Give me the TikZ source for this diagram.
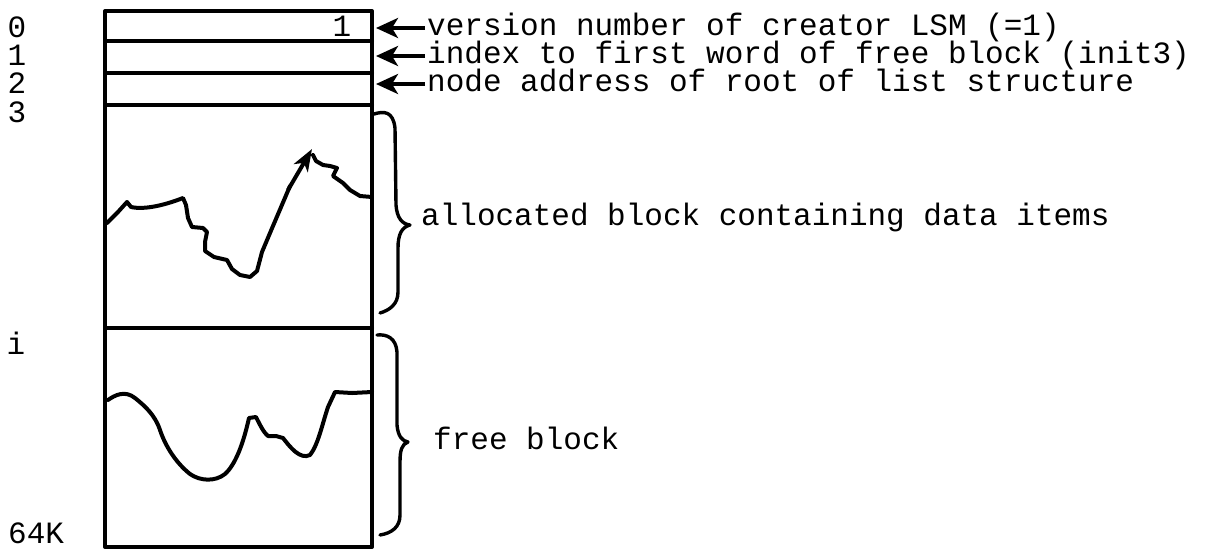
\documentclass[tikz,border=0pt]{standalone}
\usepackage{fontspec}
\newfontfamily\tw{Liberation Mono}
\usetikzlibrary{arrows.meta}
\begin{document}
\begin{tikzpicture}[x=1pt,y=-1pt,
  ink/.style={line width=4pt,line cap=round,line join=round},
  wave/.style={line width=4pt,line cap=round,line join=round},
  bracepath/.style={line width=3.4pt,line cap=round,line join=round},
  arr/.style={line width=3.6pt,-{Stealth[length=22pt,width=20pt,inset=6pt]}},
  lbl/.style={inner sep=0pt,anchor=base west,font=\tw\fontsize{31}{31}\selectfont},
  num/.style={inner sep=0pt,anchor=base,font=\tw\fontsize{31}{31}\selectfont}]
\useasboundingbox (0,0) rectangle (1220,550);
% box
\coordinate (tl) at (105,11);
\coordinate (br) at (372,547);
\draw[ink] (tl) rectangle (br);
\draw[ink] (105,41) -- (372,41);
\draw[ink] (105,73) -- (372,73);
\draw[ink] (105,105) -- (372,105);
\draw[ink] (105,328) -- (372,328);
% row labels
\node[num] (l0) at (17,37) {0};
\node[num] (l1) at (17,65) {1};
\node[num] (l2) at (17,93) {2};
\node[num] (l3) at (17,122) {3};
\node[num] (li) at (16,354) {i};
\node[lbl] (l64) at (8,543) {64K};
\node[num] (one) at (342,36) {1};
% annotations
\node[lbl] (t0) at (427,35) {version number of creator LSM (=1)};
\node[lbl] (t1) at (427,63) {index to first word of free block (init3)};
\node[lbl] (t2) at (427,91) {node address of root of list structure};
\coordinate (s0) at (425,28);
\coordinate (s1) at (425,56);
\coordinate (s2) at (425,84);
\coordinate (a0) at (376,28);
\coordinate (a1) at (376,56);
\coordinate (a2) at (376,84);
\draw[arr] (s0) -- (a0);
\draw[arr] (s1) -- (a1);
\draw[arr] (s2) -- (a2);
% braces
\draw[bracepath] (374,114) .. controls (384,111) and (393,111) .. (395,128)
  -- (396,205) .. controls (397,218) and (402,224) .. (410,225)
  .. controls (402,227) and (398,234) .. (398,248)
  -- (398,292) .. controls (398,304) and (390,310) .. (380,313);
\draw[bracepath] (377,335) .. controls (387,334) and (396,338) .. (397,352)
  -- (397,425) .. controls (398,436) and (402,441) .. (408,442)
  .. controls (402,444) and (400,450) .. (400,462)
  -- (400,515) .. controls (400,527) and (392,533) .. (380,535);
\node[lbl] (alloc) at (421,225) {allocated block containing data items};
\node[lbl] (free) at (433,449) {free block};
% wavy line in allocated block
\draw[wave] (107,223) -- (118,212) -- (127,202) -- (131,207)
  .. controls (145,210) and (165,205) .. (183,198)
  -- (186,205) -- (188,218) -- (192,227) -- (203,228) -- (207,232)
  -- (205,242) -- (205,251) -- (214,257) -- (227,260) -- (232,269)
  -- (240,275) -- (250,277) -- (257,271) -- (262,252) -- (270,233)
  -- (290,186);
\coordinate (wa) at (288,190);
\coordinate (wb) at (312,149);
\draw[line width=4pt,-{Stealth[length=22pt,width=16pt,inset=6pt]}] (wa) -- (wb);
\draw[wave] (313,155) -- (316,161) -- (323,165) -- (330,166) -- (337,168)
  -- (333,176) -- (343,183) -- (350,190) -- (360,196) -- (372,197);
% wavy line in free block
\draw[wave] (108,400) .. controls (115,395) and (125,390) .. (135,398)
  .. controls (145,406) and (155,415) .. (160,430)
  .. controls (165,445) and (175,462) .. (190,474)
  .. controls (200,481) and (215,482) .. (225,474)
  .. controls (235,465) and (243,445) .. (249,418)
  -- (256,417) .. controls (260,425) and (264,433) .. (268,436)
  -- (276,436) -- (283,438)
  .. controls (290,447) and (300,460) .. (310,455)
  .. controls (318,445) and (322,425) .. (328,407)
  -- (335,392) -- (352,393) -- (372,392);
\end{tikzpicture}
\end{document}
